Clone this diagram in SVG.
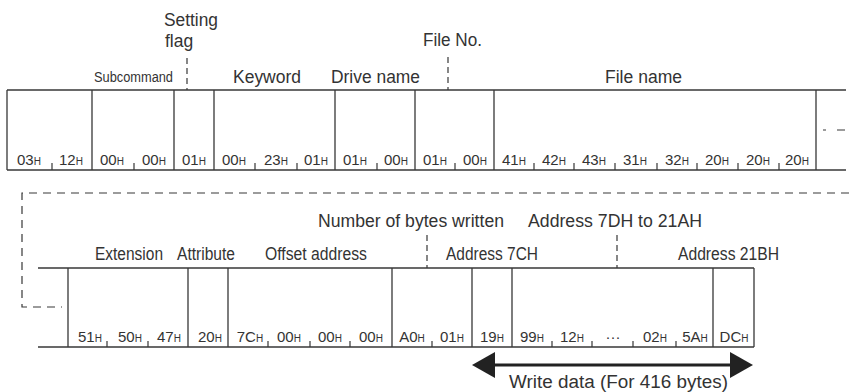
<svg xmlns="http://www.w3.org/2000/svg" width="856" height="392" viewBox="0 0 856 392">
<defs>
<style>
.ln{stroke:#383838;stroke-width:1.3;fill:none}
.tk{stroke:#383838;stroke-width:1.2;fill:none}
.ld{stroke:#383838;stroke-width:1.2;fill:none;stroke-dasharray:6 4}
.cd{stroke:#383838;stroke-width:1.2;fill:none;stroke-dasharray:8 6}
.lb{font-family:"Liberation Sans",Arial,sans-serif;font-size:17.5px;fill:#333}
.sl{font-family:"Liberation Sans",Arial,sans-serif;font-size:15.5px;fill:#333}
.v{font-family:"Liberation Sans",Arial,sans-serif;font-size:15px;fill:#333;text-anchor:middle}
.h{font-size:10px}
</style>
<marker id="ah" markerUnits="userSpaceOnUse" markerWidth="24" markerHeight="26" refX="0" refY="13" orient="auto-start-reverse">
<path d="M0,0 L23,13 L0,26 Z" fill="#222"/>
</marker>
</defs>
<rect width="856" height="392" fill="#fff"/>

<!-- frames -->
<g id="frame-top">
<path class="ln" d="M7,90H846M7,170H846M7,90V170M92,90V170M174,90V170M214,90V170M335,90V170M415,90V170M494,90V170M816,90V170"/>
<path class="tk" d="M52,163V170M134,163V170M255,163V170M297,163V170M377,163V170M455,163V170M534,163V170M574,163V170M615,163V170M657,163V170M697,163V170M738,163V170M779,163V170"/>
<path class="tk" d="M823,130H826M837,130H845"/>
</g>
<g id="frame-bottom">
<path class="ln" d="M38,268H754M38,347H754M68,268V347M188,268V347M228,268V347M392,268V347M472,268V347M512,268V347M713,268V347M754,268V347"/>
<path class="tk" d="M107,341V347M148,341V347M268,341V347M310,341V347M350,341V347M432,341V347M552,341V347M592,341V347M633,341V347M676,341V347"/>
</g>

<!-- top row fields -->
<g id="command">
<text class="v" x="29" y="165">03<tspan class="h">H</tspan></text>
<text class="v" x="71" y="165">12<tspan class="h">H</tspan></text>
</g>
<g id="subcommand">
<text class="sl" x="94" y="82" textLength="79" lengthAdjust="spacingAndGlyphs">Subcommand</text>
<text class="v" x="112" y="165">00<tspan class="h">H</tspan></text>
<text class="v" x="154" y="165">00<tspan class="h">H</tspan></text>
</g>
<g id="setting-flag">
<text class="lb" x="164" y="26" textLength="54" lengthAdjust="spacingAndGlyphs">Setting</text>
<text class="lb" x="165" y="47">flag</text>
<text class="v" x="194" y="165">01<tspan class="h">H</tspan></text>
</g>
<g id="keyword">
<text class="lb" x="233" y="83" textLength="68" lengthAdjust="spacingAndGlyphs">Keyword</text>
<text class="v" x="234" y="165">00<tspan class="h">H</tspan></text>
<text class="v" x="276" y="165">23<tspan class="h">H</tspan></text>
<text class="v" x="316" y="165">01<tspan class="h">H</tspan></text>
</g>
<g id="drive-name">
<text class="lb" x="331" y="83" textLength="89" lengthAdjust="spacingAndGlyphs">Drive name</text>
<text class="v" x="355" y="165">01<tspan class="h">H</tspan></text>
<text class="v" x="396" y="165">00<tspan class="h">H</tspan></text>
</g>
<g id="file-no">
<text class="lb" x="423" y="46" textLength="59" lengthAdjust="spacingAndGlyphs">File No.</text>
<text class="v" x="435" y="165">01<tspan class="h">H</tspan></text>
<text class="v" x="475" y="165">00<tspan class="h">H</tspan></text>
</g>
<g id="file-name">
<text class="lb" x="605" y="83" textLength="77" lengthAdjust="spacingAndGlyphs">File name</text>
<text class="v" x="514" y="165">41<tspan class="h">H</tspan></text>
<text class="v" x="554" y="165">42<tspan class="h">H</tspan></text>
<text class="v" x="594" y="165">43<tspan class="h">H</tspan></text>
<text class="v" x="635" y="165">31<tspan class="h">H</tspan></text>
<text class="v" x="677" y="165">32<tspan class="h">H</tspan></text>
<text class="v" x="717" y="165">20<tspan class="h">H</tspan></text>
<text class="v" x="758" y="165">20<tspan class="h">H</tspan></text>
<text class="v" x="797" y="165">20<tspan class="h">H</tspan></text>
</g>

<!-- bottom row fields -->
<g id="extension">
<text class="lb" x="95" y="260" textLength="68" lengthAdjust="spacingAndGlyphs">Extension</text>
<text class="v" x="90" y="342">51<tspan class="h">H</tspan></text>
<text class="v" x="130" y="342">50<tspan class="h">H</tspan></text>
<text class="v" x="169" y="342">47<tspan class="h">H</tspan></text>
</g>
<g id="attribute">
<text class="lb" x="177" y="260" textLength="58" lengthAdjust="spacingAndGlyphs">Attribute</text>
<text class="v" x="210" y="342">20<tspan class="h">H</tspan></text>
</g>
<g id="offset-address">
<text class="lb" x="265" y="260" textLength="102" lengthAdjust="spacingAndGlyphs">Offset address</text>
<text class="v" x="250" y="342">7C<tspan class="h">H</tspan></text>
<text class="v" x="289" y="342">00<tspan class="h">H</tspan></text>
<text class="v" x="330" y="342">00<tspan class="h">H</tspan></text>
<text class="v" x="371" y="342">00<tspan class="h">H</tspan></text>
</g>
<g id="bytes-written">
<text class="lb" x="318" y="227" textLength="186" lengthAdjust="spacingAndGlyphs">Number of bytes written</text>
<text class="v" x="412" y="342">A0<tspan class="h">H</tspan></text>
<text class="v" x="452" y="342">01<tspan class="h">H</tspan></text>
</g>
<g id="address-7c">
<text class="lb" x="446" y="260" textLength="92" lengthAdjust="spacingAndGlyphs">Address 7CH</text>
<text class="v" x="492" y="342">19<tspan class="h">H</tspan></text>
</g>
<g id="address-7d-21a">
<text class="lb" x="528" y="227" textLength="174" lengthAdjust="spacingAndGlyphs">Address 7DH to 21AH</text>
<text class="v" x="532" y="342">99<tspan class="h">H</tspan></text>
<text class="v" x="572" y="342">12<tspan class="h">H</tspan></text>
<text class="v" x="613" y="342">···</text>
<text class="v" x="655" y="342">02<tspan class="h">H</tspan></text>
<text class="v" x="695" y="342">5A<tspan class="h">H</tspan></text>
</g>
<g id="address-21b">
<text class="lb" x="678" y="260" textLength="101" lengthAdjust="spacingAndGlyphs">Address 21BH</text>
<text class="v" x="734" y="342">DC<tspan class="h">H</tspan></text>
</g>
<g id="write-data">
<text class="lb" x="509" y="388" style="font-size:18px" textLength="219" lengthAdjust="spacingAndGlyphs">Write data (For 416 bytes)</text>
</g>

<!-- connectors -->
<g id="connectors">
<path class="ld" d="M187,58V90"/>
<path class="ld" d="M448,57V90"/>
<path class="ld" d="M427,235V268"/>
<path class="ld" d="M617,235V268"/>
<path class="cd" d="M849,193H22V307H62"/>
<line x1="495" y1="365" x2="730" y2="365" stroke="#222" stroke-width="3" marker-start="url(#ah)" marker-end="url(#ah)"/>
</g>
</svg>
